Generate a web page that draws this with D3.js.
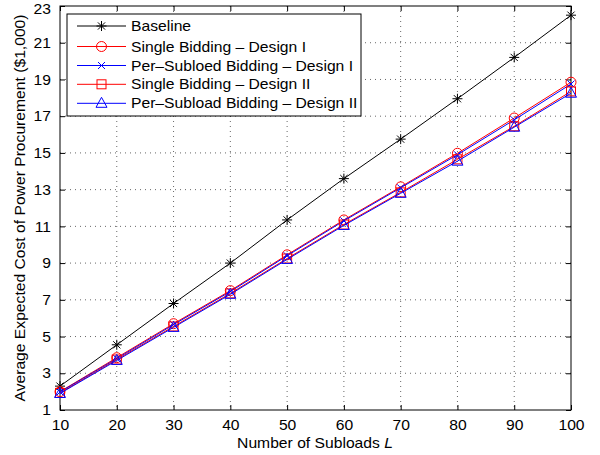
<!DOCTYPE html>
<html><head><meta charset="utf-8">
<script src="https://cdn.jsdelivr.net/npm/d3@7"></script>
<style>body{margin:0;background:#fff}svg{display:block}text{font-family:"Liberation Sans",Arial,sans-serif}</style>
</head><body><svg id="c" width="600" height="455"></svg>
<script>
const subloads = [10,20,30,40,50,60,70,80,90,100];
const baseline = [2.3,4.55,6.8,9.0,11.35,13.6,15.75,17.95,20.2,22.5];
const singleD1 = [2.0,3.85,5.7,7.5,9.45,11.35,13.15,14.98,16.9,18.85];
const perD1 = [1.98,3.8,5.65,7.45,9.4,11.3,13.1,14.9,16.8,18.75];
const singleD2 = [1.93,3.75,5.55,7.35,9.25,11.1,12.85,14.65,16.45,18.35];
const perD2 = [1.9,3.7,5.5,7.3,9.2,11.05,12.8,14.55,16.4,18.25];
const xTicks = [10,20,30,40,50,60,70,80,90,100];
const yTicks = [1,3,5,7,9,11,13,15,17,19,21,23];
const seriesNames = ["Baseline","Single Bidding \u2013 Design I","Per\u2013Subloed Bidding \u2013 Design I","Single Bidding \u2013 Design II","Per\u2013Subload Bidding \u2013 Design II"];
const seriesColors = ["#000","#ff0000","#0000ff","#ff0000","#0000ff"];
const seriesMarkers = ["star","circle","x","square","triangle"];
const seriesData = [baseline,singleD1,perD1,singleD2,perD2];

const FS = 14.5, STRETCH = 1.08;
const svg = d3.select("#c");
const L=60,R=571,T=6,B=410;
const x = d3.scaleLinear().domain([10,100]).range([L,R]);
const y = d3.scaleLinear().domain([1,23]).range([B,T]);

function stretch(sel){
  sel.each(function(){const n=this.getComputedTextLength(); if(n>0){d3.select(this).attr("textLength",n*STRETCH).attr("lengthAdjust","spacingAndGlyphs");}});
}

// grid
const g = svg.append("g");
g.selectAll(".gx").data(xTicks.slice(1,-1)).enter().append("line")
 .attr("x1",d=>x(d)).attr("x2",d=>x(d)).attr("y1",T).attr("y2",B)
 .attr("stroke","#000").attr("stroke-width",0.6).attr("stroke-dasharray","1,4");
g.selectAll(".gy").data(yTicks.slice(1,-1)).enter().append("line")
 .attr("y1",d=>y(d)).attr("y2",d=>y(d)).attr("x1",L).attr("x2",R)
 .attr("stroke","#000").attr("stroke-width",0.6).attr("stroke-dasharray","1,4");

// axes with inward ticks
const ax = d3.axisBottom(x).tickValues(xTicks).tickSizeInner(-5).tickSizeOuter(0).tickPadding(10);
const ay = d3.axisLeft(y).tickValues(yTicks).tickSizeInner(-5).tickSizeOuter(0).tickPadding(9);
const gx = svg.append("g").attr("transform",`translate(0,${B})`).call(ax);
const gy = svg.append("g").attr("transform",`translate(${L},0)`).call(ay);
const gxt = svg.append("g").attr("transform",`translate(0,${T})`).call(d3.axisTop(x).tickValues(xTicks).tickSizeInner(-5).tickSizeOuter(0).tickFormat(""));
const gyr = svg.append("g").attr("transform",`translate(${R},0)`).call(d3.axisRight(y).tickValues(yTicks).tickSizeInner(-5).tickSizeOuter(0).tickFormat(""));
[gx,gy,gxt,gyr].forEach(a=>{a.select(".domain").remove();a.selectAll("line").attr("stroke","#000");a.selectAll("text").attr("font-size",FS).attr("fill","#000").attr("font-family","Liberation Sans, Arial, sans-serif");});
gy.selectAll(".tick").filter(d=>d===23).select("text").attr("dy","0.55em");
stretch(gx.selectAll("text")); stretch(gy.selectAll("text"));
svg.append("rect").attr("x",L).attr("y",T).attr("width",R-L).attr("height",B-T).attr("fill","none").attr("stroke","#000").attr("stroke-width",1);

function marker(sel,type,color,cx,cy){
  const s=sel.append("g").attr("transform",`translate(${cx},${cy})`).attr("fill","none").attr("stroke",color).attr("stroke-width",1);
  if(type==="star"){
    const r=5;
    [[0,-r,0,r],[-r,0,r,0],[-3.6,-3.6,3.6,3.6],[-3.6,3.6,3.6,-3.6]].forEach(p=>s.append("line").attr("x1",p[0]).attr("y1",p[1]).attr("x2",p[2]).attr("y2",p[3]));
  } else if(type==="circle"){
    s.append("circle").attr("r",5);
  } else if(type==="x"){
    const r=3.5;
    [[-r,-r,r,r],[-r,r,r,-r]].forEach(p=>s.append("line").attr("x1",p[0]).attr("y1",p[1]).attr("x2",p[2]).attr("y2",p[3]));
  } else if(type==="square"){
    s.append("rect").attr("x",-4.5).attr("y",-4.5).attr("width",9).attr("height",9);
  } else if(type==="triangle"){
    s.append("path").attr("d","M0,-6L5.5,4L-5.5,4Z");
  }
}

const line = d3.line().x((d,i)=>x(subloads[i])).y(d=>y(d));
seriesData.forEach((data,k)=>{
  svg.append("path").datum(data).attr("d",line).attr("fill","none").attr("stroke",seriesColors[k]).attr("stroke-width",1);
  const mg = svg.append("g");
  data.forEach((v,i)=>marker(mg,seriesMarkers[k],seriesColors[k],x(subloads[i]),y(v)));
});

// legend
const lg = svg.append("g");
lg.append("rect").attr("x",67).attr("y",14).attr("width",294).attr("height",102).attr("fill","#fff").attr("stroke","#000").attr("stroke-width",1);
const rowsY=[26,46.5,65.5,84.3,103.3];
seriesNames.forEach((n,k)=>{
  lg.append("line").attr("x1",77).attr("x2",126).attr("y1",rowsY[k]).attr("y2",rowsY[k]).attr("stroke",seriesColors[k]).attr("stroke-width",1);
  marker(lg,seriesMarkers[k],seriesColors[k],101.5,rowsY[k]);
  lg.append("text").attr("x",131).attr("y",rowsY[k]+5).attr("font-size",FS).text(n);
});
stretch(lg.selectAll("text"));

// axis labels
const xl = svg.append("text").attr("x",315).attr("y",448).attr("text-anchor","middle").attr("font-size",FS);
xl.append("tspan").text("Number of Subloads ");
xl.append("tspan").attr("font-style","italic").text("L");
{const n=xl.node().getComputedTextLength(); xl.attr("textLength",n*STRETCH).attr("lengthAdjust","spacingAndGlyphs");}
const yl = svg.append("text").attr("transform","translate(25,208) rotate(-90)").attr("text-anchor","middle").attr("font-size",FS).text("Average Expected Cost of Power Procurement ($1,000)");
stretch(yl);
</script></body></html>
